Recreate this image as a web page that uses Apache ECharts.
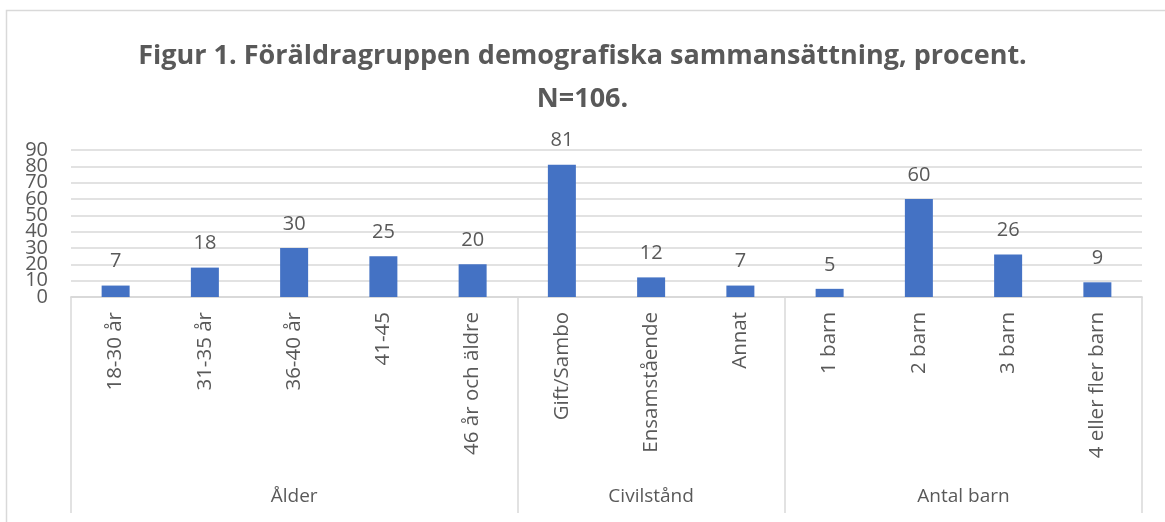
<!DOCTYPE html>
<html>
<head>
<meta charset="utf-8">
<script src="https://cdn.jsdelivr.net/npm/echarts@6/dist/echarts.min.js"></script>
<style>
html,body{margin:0;padding:0;background:#fff;}
#chart{width:1165px;height:522px;}
</style>
</head>
<body>
<div id="chart"></div>
<script>
var titleText = 'Figur 1. Föräldragruppen demografiska sammansättning, procent.';
var subtitleText = 'N=106.';
var categories = ['18-30 år', '31-35 år', '36-40 år', '41-45', '46 år och äldre', 'Gift/Sambo', 'Ensamstående', 'Annat', '1 barn', '2 barn', '3 barn', '4 eller fler barn'];
var values = [7, 18, 30, 25, 20, 81, 12, 7, 5, 60, 26, 9];
var groupNames = ['Ålder', 'Civilstånd', 'Antal barn'];
var groupSizes = [5, 3, 4];
var yTicks = [0, 10, 20, 30, 40, 50, 60, 70, 80, 90];

// group boundaries and centers (in category units)
var bounds = [0];
var centers = [];
groupSizes.forEach(function (s, i) {
  var start = bounds[bounds.length - 1];
  bounds.push(start + s);
  centers.push(start + s / 2);
});
// split tick labels over two coincident axes so they are not culled for overlapping
var yTicksEven = yTicks.filter(function (v, i) { return i % 2 === 0; });
var yTicksOdd = yTicks.filter(function (v, i) { return i % 2 === 1; });

var textColor = '#595959';
var lineColor = '#d9d9d9';
var font = 'Open Sans';

function yAxisDef(labels, showSplit) {
  return {
    type: 'value',
    position: 'left',
    min: yTicks[0],
    max: yTicks[yTicks.length - 1],
    interval: 10,
    axisLine: {show: false},
    axisTick: {show: false},
    splitLine: {show: showSplit, lineStyle: {color: lineColor, width: 1.5}},
    axisLabel: {
      customValues: labels,
      margin: 23, fontFamily: font, fontSize: 20, color: textColor,
      showMinLabel: true, showMaxLabel: true
    }
  };
}

var chart = echarts.init(document.getElementById('chart'), null, {renderer: 'canvas'});
chart.setOption({
  backgroundColor: '#ffffff',
  animation: false,
  graphic: [{
    type: 'rect',
    shape: {x: 6.5, y: 10.5, width: 1200, height: 600},
    style: {fill: 'none', stroke: lineColor, lineWidth: 1.5},
    silent: true, z: -10
  }],
  title: [{
    text: titleText,
    left: 'center',
    top: 38,
    textStyle: {fontFamily: font, fontSize: 27, fontWeight: 'bold', color: textColor}
  }, {
    text: subtitleText,
    left: 'center',
    top: 81,
    textStyle: {fontFamily: font, fontSize: 27, fontWeight: 'bold', color: textColor}
  }],
  grid: {left: 71, right: 23, top: 150, bottom: 225, containLabel: false},
  xAxis: [{
    type: 'category',
    data: categories,
    position: 'bottom',
    axisLine: {show: true, lineStyle: {color: lineColor, width: 1.5}},
    axisTick: {show: false},
    axisLabel: {rotate: 90, interval: 0, margin: 15, fontFamily: font, fontSize: 20.5, color: textColor}
  }, {
    type: 'value',
    min: 0,
    max: categories.length,
    position: 'bottom',
    splitLine: {show: false},
    axisLine: {show: true, lineStyle: {color: lineColor, width: 1.5}},
    axisTick: {show: true, customValues: bounds, length: 216, lineStyle: {color: lineColor, width: 1.5}},
    axisLabel: {
      customValues: centers,
      margin: 190,
      fontFamily: font, fontSize: 19, color: textColor,
      formatter: function (v) {
        var idx = centers.indexOf(v);
        return idx >= 0 ? groupNames[idx] : '';
      }
    }
  }],
  yAxis: [yAxisDef(yTicksEven, true), yAxisDef(yTicksOdd, false)],
  series: [{
    type: 'bar',
    xAxisIndex: 0,
    yAxisIndex: 0,
    data: values,
    barWidth: 28,
    itemStyle: {color: '#4472C4'},
    label: {show: true, position: 'top', distance: 14, fontFamily: font, fontSize: 20, color: textColor}
  }]
});
</script>
</body>
</html>
